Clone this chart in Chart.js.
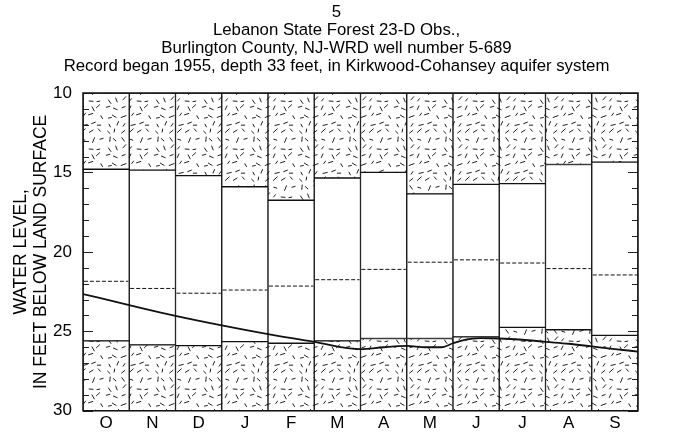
<!DOCTYPE html>
<html><head><meta charset="utf-8">
<script src="https://cdn.jsdelivr.net/npm/chart.js@4"></script>
<style>html,body{margin:0;padding:0;background:#fff}#wrap{width:673px;height:432px}</style>
</head><body><div id="wrap"><canvas id="c" width="673" height="432"></canvas></div>
<script>
const months = ['O','N','D','J','F','M','A','M','J','J','A','S'];
const maxLevel = [14.8,14.85,15.2,15.9,16.75,15.35,15.0,16.35,15.75,15.7,14.5,14.35];
const medianLevel = [21.85,22.3,22.6,22.4,22.15,21.75,21.1,20.65,20.5,20.7,21.05,21.45];
const minLevel = [25.6,25.85,25.9,25.65,25.75,25.6,25.45,25.45,25.35,24.75,24.9,25.25];
const currentX = [0,1,2,3,4,5,6,6.5,7,7.4,7.75,8,8.25,8.6,9,9.5,10,10.5,11,11.5,12];
const currentLevel = [22.65,23.35,24.03,24.63,25.18,25.66,26.12,26.0,25.92,26.0,26.0,25.75,25.53,25.43,25.45,25.53,25.66,25.78,25.95,26.12,26.27];
const yTop = 10, yBottom = 30;
const titleLines = ['5','Lebanon State Forest 23-D Obs.,','Burlington County, NJ-WRD well number 5-689','Record began 1955, depth 33 feet, in Kirkwood-Cohansey aquifer system'];
const yTitleLines = ['WATER LEVEL,','IN FEET BELOW LAND SURFACE'];

const FONT = "'Liberation Sans', Arial, sans-serif";

function makePattern(){
  const s = 48;
  const cv = document.createElement('canvas'); cv.width = s; cv.height = s;
  const g = cv.getContext('2d');
  g.fillStyle = '#fff'; g.fillRect(0,0,s,s);
  g.strokeStyle = '#222'; g.lineWidth = 1;
  let seed = 12345;
  const rnd = () => { seed = (seed * 16807) % 2147483647; return seed / 2147483647; };
  const cell = 8;
  for (let i = 0; i < s/cell; i++) for (let j = 0; j < s/cell; j++) {
    const cx = i*cell + 2 + rnd()*4, cy = j*cell + 2 + rnd()*4;
    const a = rnd()*Math.PI, L = 1.8 + rnd()*1.2;
    g.beginPath();
    g.moveTo(cx - Math.cos(a)*L, cy - Math.sin(a)*L);
    g.lineTo(cx + Math.cos(a)*L, cy + Math.sin(a)*L);
    g.stroke();
  }
  return g.createPattern(cv, 'repeat');
}
const stipple = makePattern();

const medianData = [];
medianLevel.forEach((m, i) => {
  medianData.push({x: i + 0.02, y: m}, {x: i + 0.98, y: m}, {x: i + 0.99, y: null});
});
const currentData = currentX.map((x, i) => ({x: x, y: currentLevel[i]}));

const framePlugin = {
  id: 'frame',
  afterDatasetsDraw(chart) {
    const {ctx, chartArea: a, scales: {y}} = chart;
    ctx.save();
    ctx.strokeStyle = '#222';
    ctx.lineWidth = 1;
    for (let v = yTop; v <= yBottom; v++) {
      const py = Math.round(y.getPixelForValue(v)) + 0.5;
      const len = (v % 5 === 0) ? 10 : 6;
      ctx.beginPath();
      ctx.moveTo(a.left, py); ctx.lineTo(a.left + len, py);
      ctx.moveTo(a.right, py); ctx.lineTo(a.right - len, py);
      ctx.stroke();
    }
    ctx.lineWidth = 1.5;
    ctx.strokeStyle = '#111';
    ctx.strokeRect(a.left, a.top, a.right - a.left, a.bottom - a.top);
    ctx.restore();
  }
};

const barCommon = {type: 'bar', borderColor: '#111', borderWidth: 1, borderSkipped: false,
  grouped: false, barPercentage: 1, categoryPercentage: 1};

new Chart(document.getElementById('c').getContext('2d'), {
  type: 'bar',
  data: {
    labels: months,
    datasets: [
      Object.assign({}, barCommon, {data: maxLevel.map(v => [yTop, v]), backgroundColor: stipple, order: 5}),
      Object.assign({}, barCommon, {data: maxLevel.map((v, i) => [v, minLevel[i]]), backgroundColor: '#fff', order: 4}),
      Object.assign({}, barCommon, {data: minLevel.map(v => [v, yBottom]), backgroundColor: stipple, order: 3}),
      {type: 'line', xAxisID: 'x2', data: medianData, borderColor: '#111', borderWidth: 1,
        borderDash: [4, 2], pointRadius: 0, spanGaps: false, order: 2},
      {type: 'line', xAxisID: 'x2', data: currentData, borderColor: '#111', borderWidth: 1.8,
        pointRadius: 0, cubicInterpolationMode: 'monotone', order: 1}
    ]
  },
  options: {
    responsive: false, animation: false, events: [],
    layout: {padding: 0},
    plugins: {
      legend: {display: false}, tooltip: {enabled: false},
      title: {display: true, text: titleLines, color: '#000',
        font: {family: FONT, size: 16.8, weight: 'normal', lineHeight: 18/16.8},
        padding: {top: 3, bottom: 18}}
    },
    scales: {
      x: {type: 'category', offset: true,
        grid: {display: false, drawTicks: false}, border: {display: false},
        ticks: {color: '#000', font: {family: FONT, size: 17}, padding: 2, maxRotation: 0, autoSkip: false},
        afterFit: s => { s.height = 21; }},
      x2: {type: 'linear', display: false, min: 0, max: 12, offset: false},
      y: {reverse: true, min: yTop, max: yBottom,
        grid: {display: false, drawTicks: false}, border: {display: false},
        ticks: {stepSize: 5, color: '#000', font: {family: FONT, size: 17}, padding: 11},
        title: {display: true, text: yTitleLines, color: '#000',
          font: {family: FONT, size: 17.5, lineHeight: 20/17.5}, padding: {top: 11, bottom: 0}},
        afterFit: s => { s.width = 83; }},
      yR: {position: 'right', reverse: true, min: yTop, max: yBottom,
        grid: {display: false, drawTicks: false}, border: {display: false},
        ticks: {display: false},
        afterFit: s => { s.width = 35; }}
    }
  },
  plugins: [framePlugin]
});
</script>
</body></html>
